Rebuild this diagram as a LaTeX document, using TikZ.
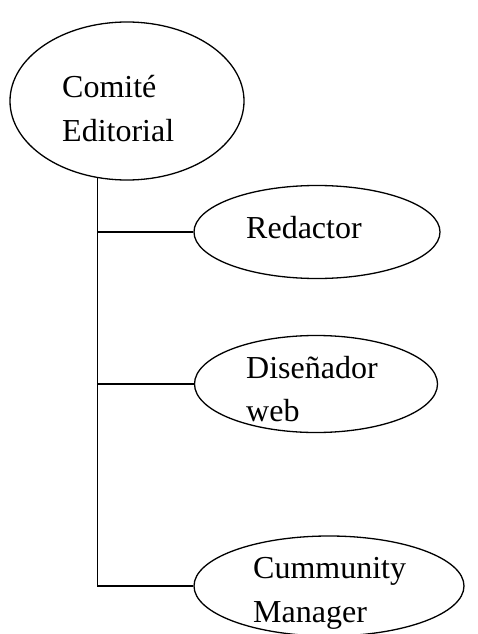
\documentclass[tikz,border=0pt]{standalone}
\usepackage{fontspec}
\setmainfont{Liberation Serif}
\usetikzlibrary{shapes.geometric}
\tikzset{
  oval/.style={draw, ellipse, line width=1.3pt, inner sep=0pt},
  lbl/.style={anchor=base west, inner sep=0pt, font=\fontsize{32}{44}\selectfont},
  conn/.style={line width=1.3pt}
}
\begin{document}
\begin{tikzpicture}[x=1pt,y=-1pt]
\useasboundingbox (0,0) rectangle (478,634);
\node[oval, minimum width=234pt, minimum height=158pt] (ce) at (127,101) {};
\node[oval, minimum width=246pt, minimum height=93pt] (red) at (317,232) {};
\node[oval, minimum width=243pt, minimum height=97pt] (dis) at (316,384) {};
\node[oval, minimum width=270pt, minimum height=100pt] (cm) at (329,586) {};
\node[lbl] (t1) at (62,97) {Comité};
\node[lbl] (t2) at (62,141) {Editorial};
\node[lbl] (t3) at (246,238) {Redactor};
\node[lbl] (t4) at (246,378) {Diseñador};
\node[lbl] (t5) at (246,421) {web};
\node[lbl] (t6) at (253,578) {Cummunity};
\node[lbl] (t7) at (253,622) {Manager};
\coordinate (top) at (ce.249);
\draw[conn] (top) |- (cm.west);
\draw[conn] (top |- red.west) -- (red.west);
\draw[conn] (top |- dis.west) -- (dis.west);
\end{tikzpicture}
\end{document}
